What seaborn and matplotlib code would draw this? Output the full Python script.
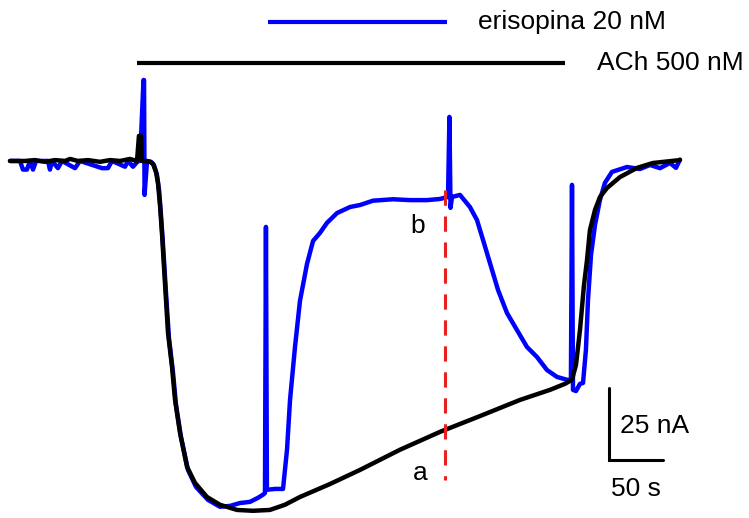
import matplotlib
matplotlib.use("Agg")
import matplotlib.pyplot as plt
import seaborn as sns
import pandas as pd

# ---- data (time in s, current in nA; baseline = 0) ----
# ACh 500 nM alone (black trace), by segment
ach_base_t = [0, 13.9, 23.1, 32.4, 41.7, 50.9, 55.6, 63.0, 72.2, 83.3, 92.6, 101.9,
              111.1, 117.6, 119.4, 121.3, 122.2, 125.0]
ach_base_i = [0, 0, 0.3, -0.3, 0.3, 0, 0.7, 0, 0.3, -0.3, 0.3, 0,
              0.7, 0, 8.7, 8.7, 0, 0]
ach_drop_t = [129.6, 132.4, 135.2, 137.0, 138.9, 140.7, 143.5, 146.3, 150.0, 152.8,
              157.4, 163.9, 171.3, 182.4, 194.4, 210.2, 225.0, 240.7]
ach_drop_i = [-0.3, -1.0, -3.8, -7.6, -15.3, -25.0, -42.4, -59.7, -71.5, -82.9,
              -94.4, -106.2, -111.8, -116.7, -119.4, -121.2, -121.5, -121.2]
ach_slow_t = [254.6, 268.5, 296.3, 324.1, 361.1, 398.1, 435.2, 472.2, 500.0, 513.9,
              520.4]
ach_slow_i = [-119.4, -116.7, -112.2, -107.3, -100.3, -94.1, -88.6, -83.0, -79.5, -77.4,
              -76.0]
ach_rec_t = [524.1, 527.8, 531.5, 534.3, 537.0, 541.7, 546.3, 552.8, 564.8, 580.6,
             595.4, 620.4]
ach_rec_i = [-70.8, -58.7, -43.1, -34.4, -24.0, -17.0, -12.5, -9.4, -5.6, -2.4,
             -0.7, 0.3]

# ACh + erisopine (blue trace), by segment
eri_base_t = [0, 9.3, 12.0, 15.7, 18.5, 21.3, 24.1, 35.2, 37.0, 38.9, 44.4, 48.1,
              60.2, 64.8, 85.2, 90.7, 94.4, 106.5, 109.3, 113.9, 118.5, 120.4,
              123.6, 124.1, 124.6, 126.9]
eri_base_i = [0, 0, -3.0, -3.0, 0, -3.0, 0, 0, -3.0, 0, -2.5, 0,
              -2.5, 0, -2.5, -2.5, 0, -2.0, 0, -2.0, 0, 0,
              28.1, 28.1, -11.8, 0]
eri_drop_t = [130.6, 133.3, 136.1, 138.0, 139.8, 141.7, 144.4, 147.2, 150.9, 153.7,
              158.3, 164.8, 172.2, 183.3, 194.4, 203.7, 213.0, 222.2, 229.6, 234.3,
              236.1, 237.0, 237.9, 245.4, 252.8]
eri_drop_i = [-0.3, -1.4, -4.9, -10.1, -18.8, -29.2, -45.5, -61.5, -73.3, -84.7,
              -95.8, -107.3, -113.2, -117.7, -120.1, -119.8, -118.8, -118.4, -117.0, -115.9,
              -115.3, -22.9, -114.2, -113.9, -113.9]
eri_rise_t = [256.5, 259.3, 263.9, 268.5, 275.0, 280.6, 287.0, 293.5, 302.8, 314.8,
              324.1, 336.1, 354.6, 370.4, 386.1, 398.1, 405.6, 406.9, 407.9, 409.3]
eri_rise_i = [-100.3, -83.0, -64.6, -48.6, -35.8, -27.8, -25.0, -21.5, -18.1, -16.0,
              -15.3, -13.8, -13.3, -13.6, -13.6, -13.2, -12.5, 15.3, -16.3, -12.5]
eri_wash_t = [416.7, 425.9, 432.4, 438.0, 444.4, 451.9, 460.2, 469.4, 478.7, 488.0,
              497.2, 506.5, 515.7, 519.4, 520.4, 521.3]
eri_wash_i = [-11.8, -16.0, -20.5, -27.4, -35.4, -44.8, -52.8, -58.7, -64.6, -68.1,
              -72.6, -75.0, -76.0, -76.0, -8.3, -79.5]
eri_rec_t = [524.1, 527.8, 530.6, 533.3, 535.2, 538.0, 541.7, 546.3, 550.9, 557.4,
             571.3, 583.3, 592.6, 601.9, 611.1, 616.7, 620.4]
eri_rec_i = [-79.9, -77.4, -77.1, -65.6, -48.3, -32.6, -22.2, -13.5, -7.6, -3.8,
             -2.1, -2.8, -1.4, -2.5, -0.7, -2.4, 0.5]

ach_bar = (117.6, 513.9)      # ACh application, s
eri_bar = (238.9, 404.6)      # erisopine application, s
marker_t = 402.8              # time of measurements a / b
marker_i = (-10.1, -110.8)
scale_t, scale_i = 50, 25     # scale bar: 50 s, 25 nA

# ---- plotting ----
sns.set_theme(style="white")
plt.rcParams["font.family"] = ["Liberation Sans", "DejaVu Sans"]
plt.rcParams["text.color"] = "black"

fig = plt.figure(figsize=(7.49, 5.18), dpi=100)
ax = fig.add_axes([0, 0, 1, 1])

eri_t = eri_base_t + eri_drop_t + eri_rise_t + eri_wash_t + eri_rec_t
eri_i = eri_base_i + eri_drop_i + eri_rise_i + eri_wash_i + eri_rec_i
ach_t = ach_base_t + ach_drop_t + ach_slow_t + ach_rec_t
ach_i = ach_base_i + ach_drop_i + ach_slow_i + ach_rec_i
df_e = pd.DataFrame({"t": eri_t, "i": eri_i})
df_a = pd.DataFrame({"t": ach_t, "i": ach_i})
sns.lineplot(data=df_e, x="t", y="i", sort=False, estimator=None, color="#0000FF",
             lw=3.2, ax=ax)
sns.lineplot(data=df_a, x="t", y="i", sort=False, estimator=None, color="black",
             lw=3.2, ax=ax)

# red dashed marker
ax.plot([marker_t, marker_t], list(marker_i), color="#E8201E", lw=2.2,
        dashes=(5, 3.5))
ax.text(377.8, -22.6, "b", fontsize=19, ha="center", va="center")
ax.text(379.6, -108.3, "a", fontsize=19, ha="center", va="center")

# application bars
ax.plot(list(eri_bar), [48.3, 48.3], color="#0000FF", lw=3.0, solid_capstyle="butt")
ax.text(433.3, 48.3, "erisopina 20 nM", fontsize=19, ha="left", va="center")
ax.plot(list(ach_bar), [34.0, 34.0], color="black", lw=3.0, solid_capstyle="butt")
ax.text(543.5, 34.0, "ACh 500 nM", fontsize=19, ha="left", va="center")

# scale bar
x0, y0 = 554.6, -103.8
ax.plot([x0, x0, x0 + scale_t], [y0 + scale_i, y0, y0], color="black", lw=2.2,
        solid_joinstyle="miter")
ax.text(564.8, -92.2, f"{scale_i} nA", fontsize=19, ha="left", va="center")
ax.text(579.6, -113.8, f"{scale_t} s", fontsize=19, ha="center", va="center")

ax.set_xlim(-9.26, 684.3)
ax.set_ylim(-124.0, 55.9)
ax.axis("off")

fig.savefig("out.png", dpi=100)
